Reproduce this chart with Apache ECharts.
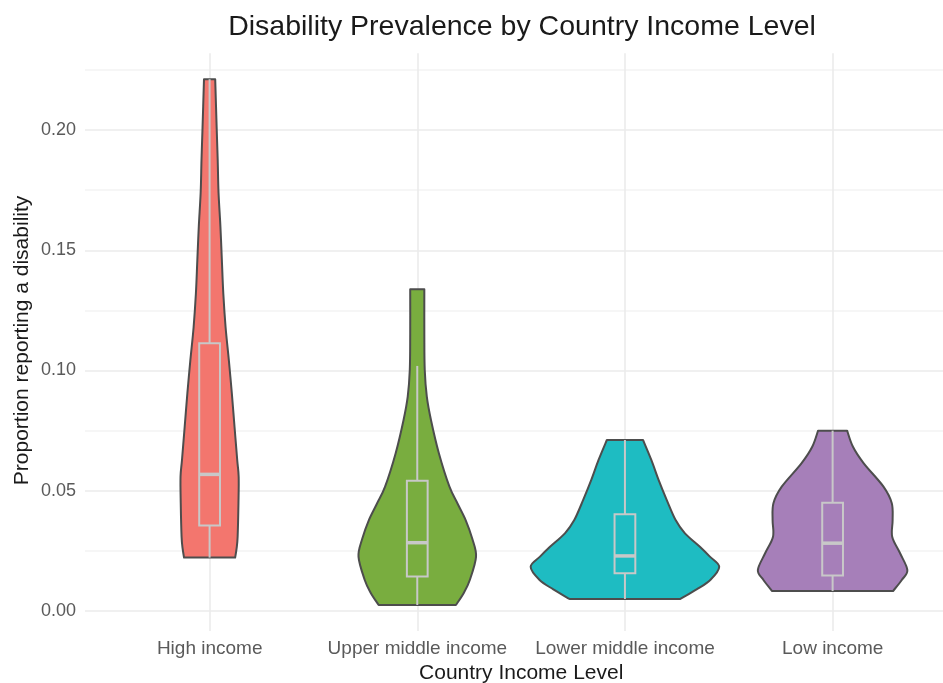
<!DOCTYPE html>
<html>
<head>
<meta charset="utf-8">
<script src="https://cdn.jsdelivr.net/npm/echarts@6/dist/echarts.min.js"></script>
<style>html,body{margin:0;padding:0;background:#fff}#c{width:943px;height:683px}</style>
</head>
<body>
<div id="c"></div>
<script>
// ---------- data ----------
const categories = ['High income', 'Upper middle income', 'Lower middle income', 'Low income'];
const yTickLabels = ['0.00', '0.05', '0.10', '0.15', '0.20'];

// violin profiles: [proportion, half-width of density in category units]
const highIncomeViolin = [
  [0.0222, 0.123], [0.026, 0.130], [0.031, 0.135], [0.045, 0.139], [0.0558, 0.140],
  [0.0628, 0.133], [0.0766, 0.120], [0.0906, 0.107], [0.104, 0.093], [0.118, 0.077],
  [0.132, 0.066], [0.146, 0.059], [0.160, 0.052], [0.174, 0.043], [0.1875, 0.039],
  [0.201, 0.034], [0.2211, 0.027]
];
const upperMiddleViolin = [
  [0.0025, 0.186], [0.0075, 0.224], [0.0129, 0.253], [0.0226, 0.283], [0.0300, 0.265],
  [0.0378, 0.233], [0.0445, 0.195], [0.0517, 0.155], [0.0656, 0.104], [0.0794, 0.066],
  [0.0891, 0.046], [0.1002, 0.036], [0.115, 0.034], [0.1338, 0.034]
];
const lowerMiddleViolin = [
  [0.0050, 0.267], [0.0090, 0.345], [0.0129, 0.411], [0.0184, 0.454], [0.0226, 0.409],
  [0.0267, 0.361], [0.0323, 0.289], [0.0378, 0.244], [0.0462, 0.201], [0.0545, 0.162],
  [0.0628, 0.127], [0.0711, 0.087]
];
const lowIncomeViolin = [
  [0.0083, 0.291], [0.0129, 0.333], [0.0170, 0.360], [0.0240, 0.325], [0.0309, 0.287],
  [0.0378, 0.289], [0.0448, 0.285], [0.0517, 0.245], [0.0614, 0.150], [0.0683, 0.098],
  [0.0750, 0.070]
];

// boxplot statistics
const whiskerLow  = [0.0222, 0.0025, 0.0050, 0.0083];
const q1          = [0.0355, 0.0143, 0.0157, 0.0148];
const medians     = [0.0568, 0.0284, 0.0229, 0.0282];
const q3          = [0.1113, 0.0542, 0.0402, 0.0450];
const whiskerHigh = [0.2211, 0.1019, 0.0711, 0.0750];

const fillColors = ['#F3766E', '#79AD3F', '#1EBCC2', '#A67FB9'];

// ---------- rendering ----------
const violins = [highIncomeViolin, upperMiddleViolin, lowerMiddleViolin, lowIncomeViolin];
const BOX_HALF = 0.05;
const FONT = "'Liberation Sans', Arial, Helvetica, sans-serif";

function sidePath(pts) {
  // Catmull-Rom -> cubic bezier through pts (render-time smoothing)
  let d = '';
  for (let i = 0; i < pts.length - 1; i++) {
    const p0 = pts[Math.max(0, i - 1)], p1 = pts[i], p2 = pts[i + 1], p3 = pts[Math.min(pts.length - 1, i + 2)];
    const c1 = [p1[0] + (p2[0] - p0[0]) / 6, p1[1] + (p2[1] - p0[1]) / 6];
    const c2 = [p2[0] - (p3[0] - p1[0]) / 6, p2[1] - (p3[1] - p1[1]) / 6];
    d += ' C' + c1[0].toFixed(2) + ' ' + c1[1].toFixed(2) + ' ' + c2[0].toFixed(2) + ' ' + c2[1].toFixed(2) + ' ' + p2[0].toFixed(2) + ' ' + p2[1].toFixed(2);
  }
  return d;
}

function renderViolin(params, api) {
  const i = params.dataIndex;
  const cx = api.value(0);
  const prof = violins[i];
  const left = prof.map(p => api.coord([cx - p[1], p[0]]));
  const right = prof.map(p => api.coord([cx + p[1], p[0]])).reverse();
  let d = 'M' + left[0][0] + ' ' + left[0][1];
  d += sidePath(left);
  d += ' L' + right[0][0] + ' ' + right[0][1];
  d += sidePath(right);
  d += ' Z';
  const bl = api.coord([cx - BOX_HALF, q1[i]]);
  const tr = api.coord([cx + BOX_HALF, q3[i]]);
  const wLo = api.coord([cx, whiskerLow[i]]);
  const wHi = api.coord([cx, whiskerHigh[i]]);
  const mL = api.coord([cx - BOX_HALF, medians[i]]);
  const mR = api.coord([cx + BOX_HALF, medians[i]]);
  const boxStroke = '#C8C8C8';
  return {
    type: 'group',
    children: [
      { type: 'path', shape: { pathData: d },
        style: { fill: fillColors[i], stroke: '#4D4D4D', lineWidth: 2, lineJoin: 'round' } },
      { type: 'line', shape: { x1: wHi[0], y1: wHi[1], x2: wHi[0], y2: tr[1] },
        style: { stroke: boxStroke, lineWidth: 2 } },
      { type: 'line', shape: { x1: wLo[0], y1: wLo[1], x2: wLo[0], y2: bl[1] },
        style: { stroke: boxStroke, lineWidth: 2 } },
      { type: 'rect', shape: { x: bl[0], y: tr[1], width: tr[0] - bl[0], height: bl[1] - tr[1] },
        style: { fill: 'none', stroke: boxStroke, lineWidth: 2 } },
      { type: 'line', shape: { x1: mL[0], y1: mL[1], x2: mR[0], y2: mR[1] },
        style: { stroke: boxStroke, lineWidth: 3.5 } }
    ]
  };
}

const chart = echarts.init(document.getElementById('c'), null, { renderer: 'canvas' });
const option = {
  backgroundColor: '#ffffff',
  animation: false,
  textStyle: { fontFamily: FONT },
  title: {
    text: 'Disability Prevalence by Country Income Level',
    left: 522, top: 13, textAlign: 'center', padding: 0,
    textStyle: { fontFamily: FONT, fontSize: 28.5, fontWeight: 'normal', color: '#1A1A1A' }
  },
  grid: [
    { left: 85, right: 0, top: 69.875, bottom: 72, outerBoundsMode: 'none', containLabel: false },
    { left: 209.7, right: 110.3, top: 53.3, bottom: 52, outerBoundsMode: 'none', containLabel: false }
  ],
  xAxis: [
    { type: 'value', gridIndex: 0, min: 0.4, max: 4.5316, show: false },
    { type: 'category', gridIndex: 1, data: categories, boundaryGap: false,
      axisLine: { show: false }, axisTick: { show: false },
      splitLine: { show: true, interval: 0, lineStyle: { color: '#EBEBEB', width: 1.6 } },
      axisLabel: { interval: 0, color: '#5A5A5A', fontSize: 19, margin: 8, fontFamily: FONT },
      name: 'Country Income Level', nameLocation: 'middle', nameGap: 30,
      nameTextStyle: { color: '#1A1A1A', fontSize: 21, fontFamily: FONT } }
  ],
  yAxis: [
    { type: 'value', gridIndex: 0, min: 0, max: 0.225, interval: 0.025,
      axisLine: { show: false }, axisTick: { show: false },
      splitLine: { show: true, lineStyle: { color: ['#EBEBEB', '#F3F3F3'], width: 1.5 } },
      axisLabel: { color: '#5A5A5A', fontSize: 18, margin: 9, fontFamily: FONT,
        formatter: function (v) {
          const k = Math.round(v * 1000);
          if (k % 50 !== 0) return '';
          const idx = k / 50;
          return yTickLabels[idx] !== undefined ? yTickLabels[idx] : '';
        } },
      name: 'Proportion reporting a disability', nameLocation: 'middle', nameGap: 52,
      nameRotate: 90, nameMoveOverlap: false,
      nameTextStyle: { color: '#1A1A1A', fontSize: 21, fontFamily: FONT } },
    { type: 'value', gridIndex: 1, min: -0.0084, max: 0.2319, show: false }
  ],
  series: [
    { type: 'custom', xAxisIndex: 0, yAxisIndex: 0, clip: false,
      renderItem: renderViolin,
      data: categories.map((c, i) => [i + 1]) }
  ]
};
chart.setOption(option);
</script>
</body>
</html>
